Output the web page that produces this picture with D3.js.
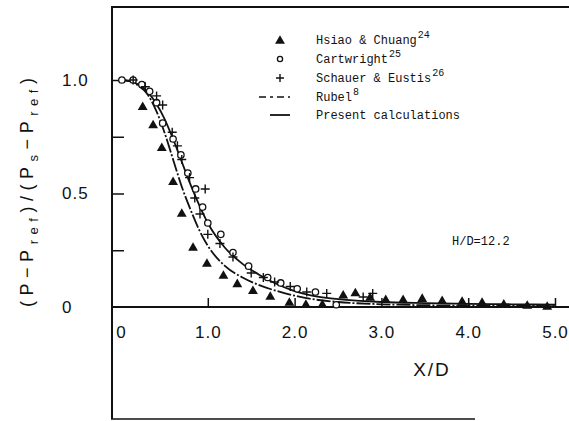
<!DOCTYPE html>
<html>
<head>
<meta charset="utf-8">
<script src="https://cdn.jsdelivr.net/npm/d3@7"></script>
<style>
	body { margin: 0; background: #fff; }
	text { fill: #111; }
</style>
</head>
<body>
<svg id="chart" width="569" height="421"></svg>
<script>
// values
var xTicks = [0, 1, 2, 3, 4, 5];
var yTicks = [0.25, 0.5, 0.75, 1.0];
var yLabelled = [0, 0.5, 1.0];

var curveX = [0, 0.1, 0.2, 0.3, 0.4, 0.5, 0.6, 0.7, 0.8, 0.9, 1.0, 1.2, 1.4, 1.6, 1.8, 2.0, 2.2, 2.5, 3.0, 3.5, 4.0, 4.5, 5.0];
var presentY = [1.0, 0.995, 0.98, 0.95, 0.90, 0.83, 0.74, 0.64, 0.54, 0.45, 0.37, 0.26, 0.19, 0.14, 0.10, 0.07, 0.05, 0.035, 0.022, 0.017, 0.014, 0.012, 0.01];
var rubelY = [1.0, 0.995, 0.975, 0.94, 0.87, 0.77, 0.65, 0.53, 0.43, 0.34, 0.27, 0.18, 0.13, 0.095, 0.07, 0.05, 0.035, 0.022, 0.012, 0.008, 0.006, 0.005, 0.004];

var hsiaoChuang = [
	[0.25, 0.88], [0.37, 0.80], [0.47, 0.70], [0.60, 0.55], [0.70, 0.41], [0.83, 0.26],
	[0.99, 0.19], [1.18, 0.137], [1.34, 0.10], [1.52, 0.07], [1.72, 0.044], [1.94, 0.018],
	[2.13, 0.009], [2.32, 0.009], [2.56, 0.05], [2.70, 0.06], [2.87, 0.04], [3.05, 0.03],
	[3.25, 0.03], [3.47, 0.035], [3.70, 0.026], [3.93, 0.022], [4.16, 0.018], [4.41, 0.01],
	[4.68, 0.005], [4.91, 0.0]
];
var cartwright = [
	[0.01, 1.0], [0.14, 1.0], [0.24, 0.98], [0.33, 0.95], [0.41, 0.90], [0.48, 0.81],
	[0.60, 0.74], [0.69, 0.67], [0.77, 0.59], [0.86, 0.52], [0.94, 0.44], [1.00, 0.37],
	[1.15, 0.32], [1.29, 0.24], [1.47, 0.18], [1.69, 0.13], [1.84, 0.106], [2.03, 0.08],
	[2.24, 0.066], [2.48, 0.01]
];
var schauerEustis = [
	[0.14, 1.0], [0.28, 0.97], [0.41, 0.93], [0.48, 0.89], [0.59, 0.77], [0.65, 0.71],
	[0.70, 0.65], [0.79, 0.57], [0.97, 0.52], [0.85, 0.48], [0.91, 0.41], [1.00, 0.32],
	[1.14, 0.28], [1.29, 0.22], [1.50, 0.15], [1.64, 0.13], [1.77, 0.11], [1.95, 0.09],
	[2.14, 0.066], [2.37, 0.06], [2.79, 0.044], [2.90, 0.06]
];

var legendNames = ['Hsiao & Chuang', 'Cartwright', 'Schauer & Eustis', 'Rubel', 'Present calculations'];
var legendRefs = ['24', '25', '26', '8', ''];

var svg = d3.select('#chart');
var mono = '"Liberation Mono", "DejaVu Sans Mono", monospace';
var sans = '"Liberation Sans", Arial, sans-serif';

var x = d3.scaleLinear().domain([0, 5]).range([121, 555]);
var y = d3.scaleLinear().domain([0, 1]).range([307, 80]);

// frame: left side, top, zero line and the stub of the bottom edge
var frame = svg.append('g').attr('stroke', '#111').attr('fill', 'none');
frame.append('line').attr('x1', 112).attr('x2', 112).attr('y1', 7).attr('y2', 419).attr('stroke-width', 2);
frame.append('line').attr('x1', 111).attr('x2', 569).attr('y1', 7).attr('y2', 7).attr('stroke-width', 2);
frame.append('line').attr('x1', 111).attr('x2', 569).attr('y1', y(0)).attr('y2', y(0)).attr('stroke-width', 2);
frame.append('line').attr('x1', 111).attr('x2', 475).attr('y1', 419).attr('y2', 419).attr('stroke-width', 1.6);

// x axis: ticks point up into the plot, labels below
var xAxis = d3.axisBottom(x)
	.tickValues(xTicks)
	.tickSizeInner(-9)
	.tickSizeOuter(0)
	.tickPadding(19)
	.tickFormat(function(d) { return d === 0 ? '0' : d3.format('.1f')(d); });

var gx = svg.append('g').attr('transform', 'translate(0,' + y(0) + ')').call(xAxis);
gx.select('.domain').remove();
gx.selectAll('.tick line').attr('stroke', '#111').attr('stroke-width', 1.5)
	.filter(function(d) { return d === 0; }).remove();
gx.selectAll('.tick text')
	.attr('font-family', sans).attr('font-size', 17).attr('fill', '#111')
	.attr('letter-spacing', 1);

// y axis: ticks point right into the plot, labels left-aligned
var yAxis = d3.axisLeft(y)
	.tickValues(yTicks.concat([0]))
	.tickSizeInner(-12)
	.tickSizeOuter(0)
	.tickFormat(function(d) { return yLabelled.indexOf(d) >= 0 ? (d === 0 ? '0' : d3.format('.1f')(d)) : ''; });

var gy = svg.append('g').attr('transform', 'translate(112,0)').call(yAxis);
gy.select('.domain').remove();
gy.selectAll('.tick line').attr('stroke', '#111').attr('stroke-width', 1.5)
	.filter(function(d) { return d === 0; }).remove();
gy.selectAll('.tick text')
	.attr('x', -50).attr('text-anchor', 'start')
	.attr('font-family', sans).attr('font-size', 17).attr('fill', '#111')
	.attr('letter-spacing', 1);

// axis titles
svg.append('text')
	.attr('x', 432).attr('y', 376)
	.attr('text-anchor', 'middle')
	.attr('font-family', sans).attr('font-size', 19)
	.attr('letter-spacing', 2)
	.text('X/D');

var ylab = svg.append('text')
	.attr('transform', 'translate(33,307) rotate(-90)')
	.attr('font-family', sans).attr('font-size', 18)
	.attr('textLength', 229).attr('lengthAdjust', 'spacing');
ylab.append('tspan').text('(P\u2212P');
ylab.append('tspan').attr('font-size', 13).attr('dy', 5).text('ref');
ylab.append('tspan').attr('dy', -5).text(')/(P');
ylab.append('tspan').attr('font-size', 13).attr('dy', 5).text('s');
ylab.append('tspan').attr('dy', -5).text('\u2212P');
ylab.append('tspan').attr('font-size', 13).attr('dy', 5).text('ref');
ylab.append('tspan').attr('dy', -5).text(')');

svg.append('text')
	.attr('x', 452).attr('y', 245)
	.attr('font-family', mono).attr('font-size', 12)
	.text('H/D=12.2');

// curves
var line = d3.line()
	.x(function(d) { return x(d[0]); })
	.y(function(d) { return y(d[1]); })
	.curve(d3.curveMonotoneX);

svg.append('path')
	.datum(d3.zip(curveX, rubelY))
	.attr('d', line)
	.attr('fill', 'none').attr('stroke', '#111').attr('stroke-width', 1.8)
	.attr('stroke-dasharray', '14,2,2,2');

svg.append('path')
	.datum(d3.zip(curveX, presentY))
	.attr('d', line)
	.attr('fill', 'none').attr('stroke', '#111').attr('stroke-width', 1.8);

// markers
var triangle = d3.symbol().type(d3.symbolTriangle).size(42);
var plusPath = 'M-4.5,0H4.5M0,-4.5V4.5';

svg.append('g').selectAll('path')
	.data(hsiaoChuang)
	.join('path')
	.attr('transform', function(d) { return 'translate(' + x(d[0]) + ',' + y(d[1]) + ')'; })
	.attr('d', triangle)
	.attr('fill', '#111');

svg.append('g').selectAll('circle')
	.data(cartwright)
	.join('circle')
	.attr('cx', function(d) { return x(d[0]); })
	.attr('cy', function(d) { return y(d[1]); })
	.attr('r', 3.2)
	.attr('fill', '#fff').attr('stroke', '#111').attr('stroke-width', 1.3);

svg.append('g').selectAll('path')
	.data(schauerEustis)
	.join('path')
	.attr('transform', function(d) { return 'translate(' + x(d[0]) + ',' + y(d[1]) + ')'; })
	.attr('d', plusPath)
	.attr('stroke', '#111').attr('stroke-width', 1.4).attr('fill', 'none');

// legend
var legend = svg.append('g');
var rowY = [40, 59, 78, 97, 115];

legend.append('path').attr('transform', 'translate(280,' + (rowY[0] + 1) + ')')
	.attr('d', triangle).attr('fill', '#111');
legend.append('circle').attr('cx', 280).attr('cy', rowY[1]).attr('r', 2.6)
	.attr('fill', '#fff').attr('stroke', '#111').attr('stroke-width', 1.3);
legend.append('path').attr('transform', 'translate(280,' + rowY[2] + ')')
	.attr('d', 'M-4,0H4M0,-4V4').attr('stroke', '#111').attr('stroke-width', 1.4);
legend.append('line').attr('x1', 259).attr('x2', 290).attr('y1', rowY[3]).attr('y2', rowY[3])
	.attr('stroke', '#111').attr('stroke-width', 1.6).attr('stroke-dasharray', '7,4,3,4');
legend.append('line').attr('x1', 270).attr('x2', 290).attr('y1', rowY[4]).attr('y2', rowY[4])
	.attr('stroke', '#111').attr('stroke-width', 1.8);

legendNames.forEach(function(name, i) {
	var t = legend.append('text')
		.attr('x', 316).attr('y', rowY[i] + 4)
		.attr('font-family', mono).attr('font-size', 12)
		.text(name);
	if (!legendRefs[i]) return;
	// reference number set as its own small text just after the name
	var w = t.node().getComputedTextLength();
	legend.append('text')
		.attr('x', 316 + w + 1).attr('y', rowY[i] - 2)
		.attr('font-family', mono).attr('font-size', 10)
		.text(legendRefs[i]);
});
</script>
</body>
</html>
